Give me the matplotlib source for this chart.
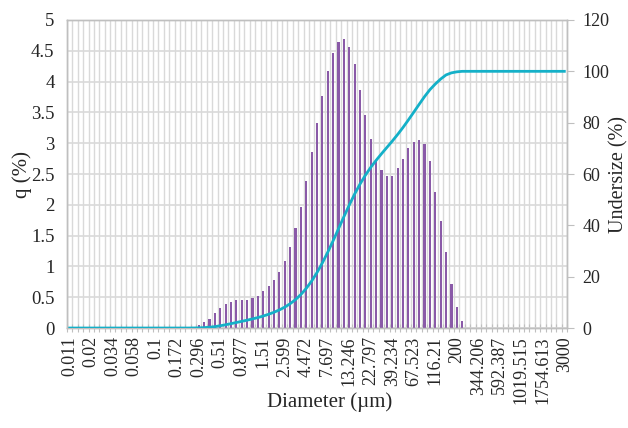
import numpy as np
import matplotlib.pyplot as plt
from matplotlib.ticker import FixedLocator, FuncFormatter

plt.rcParams['font.family'] = ['Liberation Serif', 'DejaVu Serif']

# particle size channels (um)
diameters = [
    '0.011', '0.013', '0.015', '0.017', '0.02', '0.023', '0.026', '0.03', '0.034', '0.039',
    '0.044', '0.051', '0.058', '0.067', '0.076', '0.087', '0.1', '0.115', '0.131', '0.15',
    '0.172', '0.197', '0.226', '0.259', '0.296', '0.339', '0.389', '0.445', '0.51', '0.584',
    '0.669', '0.766', '0.877', '1.005', '1.151', '1.318', '1.51', '1.729', '1.981', '2.269',
    '2.599', '2.976', '3.409', '3.905', '4.472', '5.122', '5.867', '6.72', '7.697', '8.816',
    '10.097', '11.565', '13.246', '15.172', '17.377', '19.904', '22.797', '26.111', '29.907', '34.255',
    '39.234', '44.938', '51.471', '58.953', '67.523', '77.339', '88.583', '101.46', '116.21', '133.103',
    '152.453', '174.616', '200', '229.075', '262.376', '300.518', '344.206', '394.244', '451.556', '517.2',
    '592.387', '678.504', '777.141', '890.116', '1019.515', '1167.725', '1337.481', '1531.914', '1754.613', '2009.687',
    '2301.841', '2636.467', '3000',
]

# frequency q (%)
q_pct = [0.0] * 23 + [
    0.02, 0.05, 0.09, 0.15, 0.24, 0.33, 0.39, 0.43, 0.45, 0.45,
    0.46, 0.49, 0.52, 0.60, 0.69, 0.78, 0.91, 1.09, 1.32, 1.62,
    1.97, 2.39, 2.85, 3.32, 3.77, 4.17, 4.47, 4.65, 4.69, 4.56,
    4.29, 3.87, 3.46, 3.07, 2.73, 2.56, 2.46, 2.46, 2.59, 2.74,
    2.93, 3.02, 3.06, 2.99, 2.71, 2.20, 1.74, 1.23, 0.71, 0.34,
    0.11,
] + [0.0] * 19

# cumulative undersize (%)
undersize = [0.0] * 23 + [
    0.02, 0.07, 0.16, 0.31, 0.55, 0.88, 1.27, 1.70, 2.15, 2.60,
    3.06, 3.55, 4.07, 4.67, 5.36, 6.14, 7.05, 8.14, 9.46, 11.08,
    13.05, 15.44, 18.29, 21.61, 25.38, 29.55, 34.02, 38.67, 43.36, 47.92,
    52.21, 56.08, 59.54, 62.61, 65.34, 67.90, 70.36, 72.82, 75.41, 78.15,
    81.08, 84.10, 87.16, 90.15, 92.86, 95.06, 97.00, 98.60, 99.40, 99.80,
    100.0,
] + [100.0] * 19

x = np.arange(len(diameters))
grid_c = '#d9d9d9'
txt_c = '#262626'

fig = plt.figure(figsize=(6.28, 4.28), dpi=100)
ax = fig.add_axes([0.1067, 0.2336, 0.7962, 0.7197])
ax2 = ax.twinx()

ax.bar(x, q_pct, width=0.4, color='#8a5aa8', zorder=3)
ax2.plot(x, undersize, color='#14b0c8', lw=2.0, zorder=4)

ax.set_xlim(-0.5, len(x) - 0.5)
ax.set_ylim(0, 5)
ax2.set_ylim(0, 120)

# gridlines between categories, horizontal grid from the q axis
ax.xaxis.set_minor_locator(FixedLocator(np.arange(len(x) + 1) - 0.5))
ax.xaxis.grid(True, which='minor', color=grid_c, lw=1.0, zorder=0)
ax.yaxis.grid(True, which='major', color=grid_c, lw=1.2, zorder=0)
ax.set_axisbelow(True)

ax.set_xticks(x[::4])
ax.set_xticklabels(diameters[::4], rotation=90)
ax.tick_params(axis='x', which='major', length=0, pad=6, labelsize=13, colors=txt_c)
ax.tick_params(axis='x', which='minor', direction='inout', length=6, width=0.8, color='#bfbfbf')

ax.set_yticks(np.arange(0, 5.01, 0.5))
ax.yaxis.set_major_formatter(FuncFormatter(lambda v, p: f'{v:g}'))
ax.tick_params(axis='y', length=0, pad=9, labelsize=13.5, colors=txt_c)

ax2.set_yticks(np.arange(0, 121, 20))
ax2.tick_params(axis='y', direction='out', length=5, width=0.8, color='#bfbfbf',
                pad=6, labelsize=13, colors=txt_c)

for a in (ax, ax2):
    for s in a.spines.values():
        s.set_color('#bfbfbf')
        s.set_linewidth(1.0)

ax.set_xlabel('Diameter (µm)', fontsize=15, color=txt_c, va='center')
ax.xaxis.set_label_coords(0.526, -0.24)
ax.set_ylabel('q (%)', fontsize=15, color=txt_c, va='center')
ax.yaxis.set_label_coords(-0.09, 0.5)
ax2.set_ylabel('Undersize (%)', fontsize=14.5, color=txt_c, va='center')
ax2.yaxis.set_label_coords(1.104, 0.5)

fig.savefig('out.png', dpi=100)
